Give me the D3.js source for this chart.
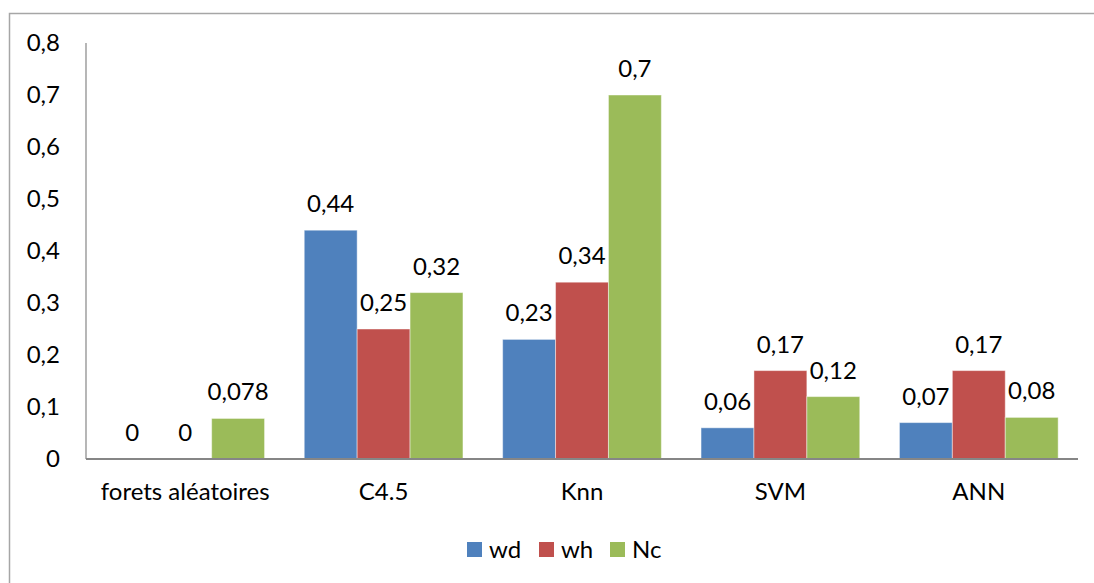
<!DOCTYPE html>
<html>
<head>
<meta charset="utf-8">
<script src="https://cdn.jsdelivr.net/npm/d3@7"></script>
<style>
  html, body { margin: 0; padding: 0; background: #fff; }
  svg { display: block; }
  text { font-family: Lato, "Open Sans", sans-serif; fill: #000; }
</style>
</head>
<body>
<svg id="chart" width="1094" height="583"></svg>
<script>
// Data
const categories = ["forets aléatoires", "C4.5", "Knn", "SVM", "ANN"];
const seriesNames = ["wd", "wh", "Nc"];
const wd = [0, 0.44, 0.23, 0.06, 0.07];
const wh = [0, 0.25, 0.34, 0.17, 0.17];
const nc = [0.078, 0.32, 0.7, 0.12, 0.08];
const labelsWd = ["0", "0,44", "0,23", "0,06", "0,07"];
const labelsWh = ["0", "0,25", "0,34", "0,17", "0,17"];
const labelsNc = ["0,078", "0,32", "0,7", "0,12", "0,08"];
const yTicks = [0, 0.1, 0.2, 0.3, 0.4, 0.5, 0.6, 0.7, 0.8];
const colors = ["#4f81bd", "#c0504d", "#9bbb59"];

const series = [
  { name: seriesNames[0], values: wd, labels: labelsWd, color: colors[0] },
  { name: seriesNames[1], values: wh, labels: labelsWh, color: colors[1] },
  { name: seriesNames[2], values: nc, labels: labelsNc, color: colors[2] }
];

const svg = d3.select("#chart");
const plot = { left: 86, right: 1078, top: 43, bottom: 459 };
const fontSize = 24;

// Outer chart frame
svg.append("rect")
  .attr("x", 9.5).attr("y", 13.5)
  .attr("width", 1110).attr("height", 620)
  .attr("fill", "none")
  .attr("stroke", "#a6a6a6")
  .attr("stroke-width", 1.5);

const x0 = d3.scaleBand().domain(categories).range([plot.left, plot.right]).paddingInner(0).paddingOuter(0);
// gap of 75% of a bar width split on both sides of each group
const barW = x0.bandwidth() / 3.75;
const x1 = d3.scaleBand().domain(seriesNames).range([0, barW * 3]);
const y = d3.scaleLinear().domain([0, 0.8]).range([plot.bottom, plot.top]);

// Y tick labels (comma decimal)
const fmt = v => d3.format(".1f")(v).replace(".", ",");
svg.append("g").selectAll("text")
  .data(yTicks).join("text")
  .attr("x", 60)
  .attr("y", d => y(d))
  .attr("dy", "0.35em")
  .attr("text-anchor", "end")
  .attr("font-size", fontSize)
  .text(d => d === 0 ? "0" : fmt(d));

// Bars
const groups = svg.append("g").selectAll("g")
  .data(categories).join("g")
  .attr("transform", c => `translate(${x0(c) + barW * 0.375},0)`);

series.forEach((s) => {
  groups.append("rect")
    .attr("x", () => x1(s.name))
    .attr("y", (c, i) => y(s.values[i]))
    .attr("width", x1.bandwidth())
    .attr("height", (c, i) => y(0) - y(s.values[i]))
    .attr("fill", s.color)
    .attr("stroke", "rgba(255,255,255,0.45)")
    .attr("stroke-width", 1);

  groups.append("text")
    .attr("x", () => x1(s.name) + x1.bandwidth() / 2)
    .attr("y", (c, i) => y(s.values[i]) - 18)
    .attr("text-anchor", "middle")
    .attr("font-size", fontSize)
    .text((c, i) => s.labels[i]);
});

// Axes lines
svg.append("line")
  .attr("x1", plot.left).attr("x2", plot.left)
  .attr("y1", plot.top).attr("y2", plot.bottom)
  .attr("stroke", "#868686").attr("stroke-width", 1.2);
svg.append("line")
  .attr("x1", plot.left).attr("x2", plot.right)
  .attr("y1", plot.bottom).attr("y2", plot.bottom)
  .attr("stroke", "#868686").attr("stroke-width", 2);

// Category labels
svg.append("g").selectAll("text")
  .data(categories).join("text")
  .attr("x", c => x0(c) + x0.bandwidth() / 2)
  .attr("y", 500)
  .attr("text-anchor", "middle")
  .attr("font-size", fontSize)
  .text(c => c);

// Legend
const legendX = [467, 539, 610];
const legend = svg.append("g").selectAll("g")
  .data(series).join("g")
  .attr("transform", (d, i) => `translate(${legendX[i]},542)`);
legend.append("rect")
  .attr("width", 15).attr("height", 15)
  .attr("fill", d => d.color);
legend.append("text")
  .attr("x", 22).attr("y", 7.5)
  .attr("dy", "0.35em")
  .attr("font-size", fontSize)
  .text(d => d.name);
</script>
</body>
</html>
